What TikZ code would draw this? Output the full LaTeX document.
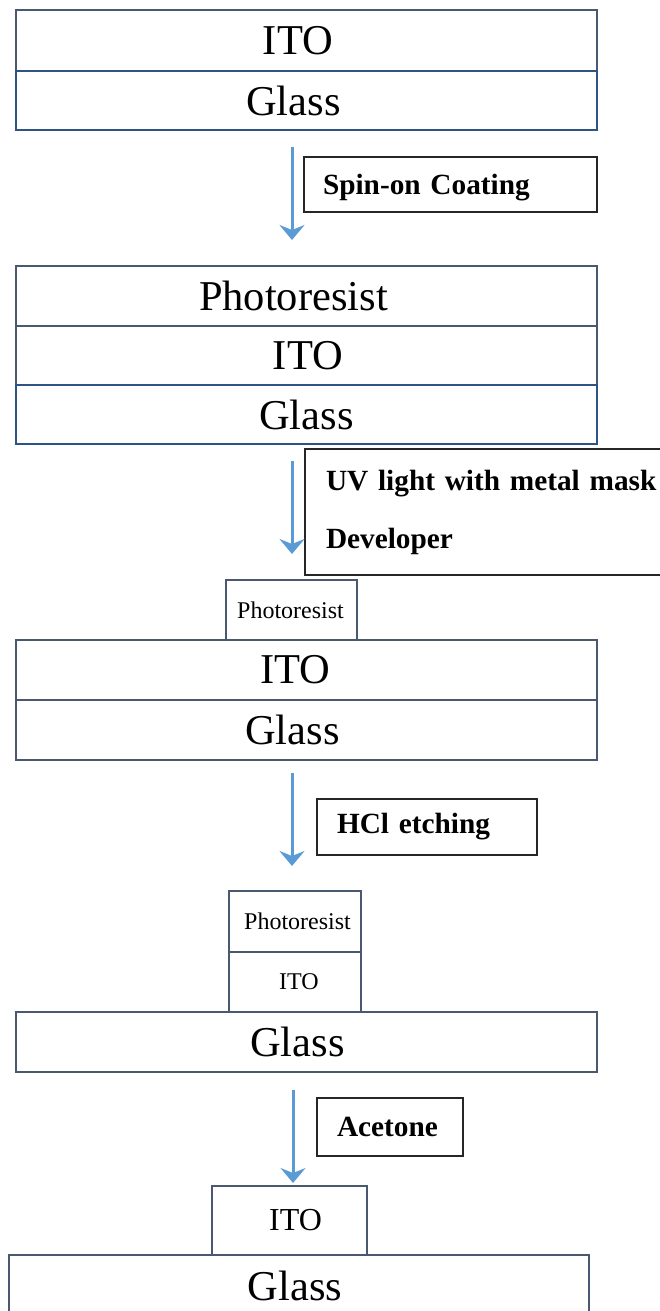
\documentclass[tikz,border=0pt]{standalone}
\usepackage{fontspec}
\setmainfont{Liberation Serif}
\usetikzlibrary{arrows.meta}
\usetikzlibrary{positioning}
\definecolor{slate}{HTML}{4A5970}
\definecolor{glassblue}{HTML}{2E5486}
\definecolor{flowblue}{HTML}{5B9BD5}
\definecolor{boxgray}{HTML}{262626}
\tikzstyle{layer}=[rectangle,draw=slate,line width=1pt,inner sep=0pt,font=\fontsize{21.25}{25}\selectfont]
\tikzstyle{bluelayer}=[layer,draw=glassblue]
\tikzstyle{smalllayer}=[layer,font=\fontsize{12}{14}\selectfont]
\tikzstyle{stepbox}=[rectangle,draw=boxgray,line width=0.75pt,align=left,inner ysep=0pt,font=\bfseries\fontsize{14.65}{29}\selectfont]
\tikzstyle{flow}=[draw=flowblue,line width=1.5pt,-{Stealth[length=7.5pt,width=12.5pt,inset=2.5pt]}]
\tikzset{nudge/.style={execute at begin node={\hspace*{-#1}}}}

\begin{document}
\begin{tikzpicture}[x=0.5pt,y=-0.5pt]
    \useasboundingbox (0,0) rectangle (659,1311);
    % First we draw the wide layers
    \foreach \pos/\name/\h/\s/\label in {{(306.5,40.5)/ito1/30.5pt/8.5pt/ITO}, {(306.5,296)/pr2/30pt/13pt/Photoresist},
        {(306.5,355.5)/ito2/29.5pt/-1.5pt/ITO}, {(306.5,670)/ito3/30pt/11pt/ITO}, {(306.5,730)/gla3/30pt/14pt/Glass},
        {(306.5,1042)/gla4/30pt/9pt/Glass}}
        \node[layer, nudge=\s, minimum width=290.5pt, minimum height=\h] (\name) at \pos {\label};
    \node[layer, nudge=4pt, minimum width=290pt, minimum height=30.5pt] (gla5) at (299,1285.5) {Glass};

    \foreach \pos/\name/\s in {{(306.5,100.5)/gla1/13pt}, {(306.5,414.5)/gla2/0pt}}
        \node[bluelayer, nudge=\s, minimum width=290.5pt, minimum height=29.5pt] (\name) at \pos {Glass};

    % Then the narrow patterned layers
    \foreach \pos/\name/\w/\h/\s/\label in {{(291.5,610)/pr3/65.5pt/30pt/1pt/Photoresist}, {(295,921.5)/pr4/66pt/30.5pt/-2.5pt/Photoresist},
        {(295,982)/ito4/66pt/30pt/-4pt/ITO}}
        \node[smalllayer, nudge=\s, minimum width=\w, minimum height=\h] (\name) at \pos {\label};
    \node[layer, nudge=-6pt, font=\fontsize{16}{18}\selectfont, minimum width=77.5pt, minimum height=34.5pt] (ito5) at (289.5,1220.5) {ITO};

    % Process steps
    \node[stepbox, inner xsep=9.5pt, text width=127.5pt, text depth=0pt, minimum height=27.5pt] (spin) at (450.5,184.5) {Spin-on Coating};
    \node[stepbox, inner xsep=10.5pt, text width=176.5pt, minimum height=63pt] (uv) at (502.5,512) {UV light with metal mask\\Developer};
    \node[stepbox, inner xsep=10pt, text width=90pt, minimum height=28pt] (hcl) at (427,827) {HCl etching};
    \node[stepbox, inner xsep=10pt, text width=53pt, minimum height=29pt] (acetone) at (390,1127) {Acetone};

    % Arrows between the stacks
    \foreach \name/\x/\ys/\ye in {a1/292/147/240, a2/292/461/554, a3/292/773/866, a4/293/1090/1183}
    {
        \coordinate (\name s) at (\x,\ys);
        \coordinate (\name e) at (\x,\ye);
        \path[flow] (\name s) -- (\name e);
    }
\end{tikzpicture}
\end{document}
